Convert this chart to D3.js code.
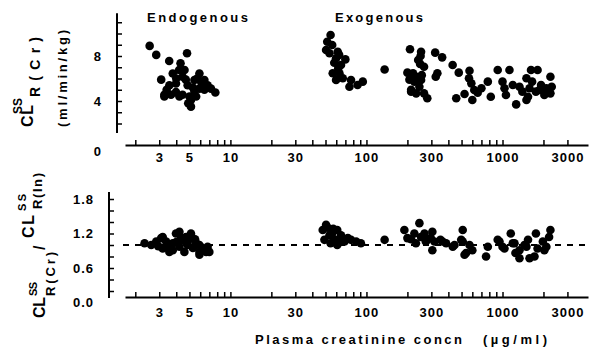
<!DOCTYPE html>
<html>
<head>
<meta charset="utf-8">
<script src="https://cdn.jsdelivr.net/npm/d3@7.9.0/dist/d3.min.js"></script>
<style>
  body { margin: 0; background: #fff; }
  svg { display: block; }
  text { font-family: "Liberation Sans", Arial, sans-serif; font-weight: bold; fill: #000; }
</style>
</head>
<body>
<svg id="chart" width="597" height="348"></svg>
<script>
// [plasma creatinine concn (ug/ml), CL_R(Cr) (ml/min/kg)]
const endoClearance = [
  [2.55, 8.9], [2.85, 8.1], [3.55, 7.55], [4.8, 8.25], [4.3, 7.35],
  [3.1, 5.9], [3.27, 4.55], [3.56, 5.4], [3.77, 6.45], [3.98, 4.8],
  [4.22, 4.4], [4.45, 6.15], [4.6, 6.75], [4.85, 5.4], [5.13, 4.1],
  [5.13, 3.5], [5.44, 4.85], [5.92, 6.45], [6.1, 5.7], [6.44, 5.87],
  [6.8, 5.4], [7.2, 5.1], [7.75, 4.75], [3.27, 4.4], [3.66, 4.55],
  [3.98, 5.55], [5.0, 4.4], [5.6, 4.4], [5.92, 5.1], [4.2, 6.75],
  [4.7, 5.9], [5.44, 5.87], [6.44, 5.0], [4.45, 4.55], [3.4, 5.0],
  [4.0, 6.0], [5.3, 5.2], [5.7, 6.0], [6.2, 5.3], [4.9, 3.8]
];
const exoClearance = [
  [54.5, 9.87], [51.5, 9.27], [56, 8.98], [50.5, 8.53], [53.5, 8.24],
  [61.5, 8.38], [59.8, 7.8], [65, 7.2], [70, 7.7], [63.3, 6.46],
  [56.5, 6.46], [59.8, 5.87], [67, 6.02], [77, 5.87], [75, 5.27],
  [86, 5.42], [94, 5.72], [58, 7.4], [62, 6.9], [63, 8.1],
  [136, 6.8],
  [209, 8.6], [252, 8.38], [320, 8.3], [360, 7.88], [240, 7.64],
  [265, 7.05], [430, 7.2], [200, 6.52], [220, 6.46], [232, 6.16],
  [225, 5.72], [252, 5.87], [245, 5.27], [213, 4.83], [232, 4.68],
  [265, 4.68], [280, 4.24], [332, 6.46], [323, 6.16], [477, 6.52],
  [572, 6.69], [567, 6.02], [590, 5.57], [457, 4.24], [526, 4.62],
  [600, 4.09], [657, 4.74], [700, 5.13], [780, 5.72], [820, 4.38],
  [922, 6.76], [1125, 6.76], [1000, 5.72], [1034, 5.13], [1190, 5.42],
  [1060, 4.53], [1260, 3.7], [1400, 4.83], [1620, 6.76], [1810, 6.76],
  [1650, 5.72], [1920, 5.42], [2250, 6.16], [2300, 5.27], [2250, 4.68],
  [2030, 4.53], [1760, 4.83], [1580, 5.13], [1540, 4.38], [1870, 4.98],
  [2100, 5.13], [1333, 5.27], [1500, 6.02], [1500, 4.09], [207, 5.9],
  [213, 5.0], [255, 6.3], [620, 4.98], [250, 8.0], [248, 7.3]
];
// [plasma creatinine concn, CL_R(Cr) / CL_R(In)]
const endoRatio = [
  [2.34, 1.03], [2.62, 1.0], [2.85, 1.06], [3.1, 1.12], [3.18, 0.94],
  [3.18, 1.14], [3.37, 1.06], [3.56, 0.88], [3.77, 1.03], [3.77, 0.91],
  [3.98, 1.2], [4.22, 0.97], [4.22, 1.23], [4.34, 1.12], [4.59, 0.88],
  [4.72, 1.14], [4.85, 1.0], [5.13, 1.17], [5.13, 1.2], [5.6, 1.03],
  [5.92, 0.88], [5.92, 1.0], [5.92, 0.83], [6.63, 0.88], [6.8, 0.97],
  [7.0, 0.88], [2.95, 0.98], [3.4, 0.96], [4.0, 1.05], [4.5, 1.08],
  [5.3, 0.95], [6.2, 0.95], [3.6, 1.0], [4.9, 1.08], [5.5, 1.1]
];
const exoRatio = [
  [50.5, 1.35], [47.7, 1.26], [53.5, 1.17], [49.1, 1.09], [58.2, 1.09],
  [65, 1.17], [69, 1.06], [77, 1.09], [84, 1.06], [91, 1.03],
  [54.5, 1.03], [61, 1.26], [56, 1.2], [61, 1.0], [73, 1.12],
  [52, 1.3], [57, 1.28], [63, 1.1],
  [136, 1.09],
  [190, 1.26], [245, 1.38], [200, 1.12], [225, 1.2], [267, 1.2],
  [280, 1.09], [231, 1.03], [316, 1.06], [252, 1.14], [305, 1.23],
  [297, 1.12], [305, 0.91], [350, 1.09], [385, 1.03], [444, 1.0],
  [510, 1.26], [510, 1.06], [526, 0.83], [600, 0.91], [757, 0.8],
  [780, 0.97], [922, 1.09], [1000, 0.97], [1150, 1.2], [1190, 1.03],
  [1333, 0.91], [1333, 0.77], [1580, 0.77], [1540, 1.09], [1760, 1.2],
  [1810, 0.94], [1980, 1.06], [2250, 1.26], [2200, 1.14], [2100, 0.97],
  [1450, 1.0], [273, 1.06], [362, 1.06], [431, 0.97], [497, 1.09],
  [572, 1.0], [540, 0.86], [950, 1.06], [1034, 0.94], [1225, 1.03],
  [1718, 0.8], [2030, 0.91], [1500, 0.97], [1245, 0.86], [213, 1.1]
];

const xTickLabels = [3, 5, 10, 30, 100, 300, 1000, 3000];
const yTopLabels = [0, 4, 8];
const yBotLabels = [0, 0.6, 1.2, 1.8];
const refRatio = 1.0;

const svg = d3.select('#chart');
const x = d3.scaleLog().domain([1.68, 4250]).range([125, 588]);
const yTop = d3.scaleLinear().domain([0, 12]).range([146, 11]);
const yBot = d3.scaleLinear().domain([0, 2]).range([302.5, 187.5]);

// minor log ticks 2..9 per decade
const xTicks = [];
[1, 10, 100, 1000].forEach(p => {
  for (let m = 1; m <= 9; m++) {
    const v = m * p;
    if (v >= 2 && v <= 3000) xTicks.push(v);
  }
});

function drawXAxis(yPos, pad) {
  const g = svg.append('g')
    .attr('transform', `translate(0,${yPos})`)
    .call(d3.axisBottom(x).tickValues(xTicks).tickSize(-5).tickSizeOuter(0).tickPadding(pad)
      .tickFormat(d => xTickLabels.includes(d) ? d : ''));
  g.select('.domain').attr('stroke-width', 2);
  g.selectAll('.tick line').attr('stroke-width', 1.5);
  g.selectAll('.tick text').attr('font-size', 13).attr('font-family', null).attr('letter-spacing', 1);
}

function drawYAxis(scale, xPos, ticks, labels, fmt, from, to) {
  const g = svg.append('g')
    .attr('transform', `translate(${xPos},0)`)
    .call(d3.axisLeft(scale).tickValues(ticks).tickSize(-5).tickPadding(15)
      .tickFormat(d => labels.some(l => Math.abs(l - d) < 1e-9) ? fmt(d) : ''));
  g.select('.domain').remove();
  g.selectAll('.tick line').attr('stroke-width', 1.5)
    .filter(d => d < from).remove();
  g.selectAll('.tick text').attr('font-size', 13).attr('font-family', null).attr('letter-spacing', 1);
  g.append('line')
    .attr('y1', scale(from)).attr('y2', scale(to))
    .attr('stroke', '#000').attr('stroke-width', 2);
  return g;
}

drawXAxis(145, 8);
drawXAxis(297, 11);
const gTop = drawYAxis(yTop, 117, d3.range(0, 12), yTopLabels, d3.format('d'), 1.15, 11.8);
// the zero label sits a little low in the original
gTop.selectAll('.tick').filter(d => d === 0).select('text').attr('dy', '0.75em');
drawYAxis(yBot, 109, d3.range(0, 19, 2).map(d => d / 10), yBotLabels, d3.format('.1f'), 0.08, 1.92);

// reference line
svg.append('line')
  .attr('x1', 123).attr('x2', 586)
  .attr('y1', yBot(refRatio)).attr('y2', yBot(refRatio))
  .attr('stroke', '#000').attr('stroke-width', 2).attr('stroke-dasharray', '6,6');

function dots(data, yScale) {
  svg.append('g').selectAll('circle').data(data).join('circle')
    .attr('cx', d => x(d[0])).attr('cy', d => yScale(d[1]))
    .attr('r', 4.3).attr('fill', '#000');
}
dots(endoClearance, yTop);
dots(exoClearance, yTop);
dots(endoRatio, yBot);
dots(exoRatio, yBot);

// panel titles
svg.append('text').attr('x', 147).attr('y', 22).attr('font-size', 13)
  .attr('textLength', 101).text('Endogenous');
svg.append('text').attr('x', 335).attr('y', 22).attr('font-size', 13)
  .attr('textLength', 88).text('Exogenous');

// x axis title
svg.append('text').attr('x', 255).attr('y', 344).attr('font-size', 13)
  .attr('textLength', 207).text('Plasma creatinine concn');
svg.append('text').attr('x', 483).attr('y', 344).attr('font-size', 13)
  .attr('textLength', 64).text('(µg/ml)');

// rotated y titles: local (lx, ly) -> screen (ly, -lx)
const yt = svg.append('g').attr('transform', 'rotate(-90)');
function rt(txt, start, base, size, len) {
  const t = yt.append('text').attr('x', -start).attr('y', base).attr('font-size', size).text(txt);
  if (len) t.attr('textLength', len);
}
rt('CL', 127, 33, 16, 22);
rt('SS', 114, 22, 12, 16);
rt('R(Cr)', 97, 40, 14, 60);
rt('(ml/min/kg)', 127, 67, 13, 97);

rt('CL', 318, 45, 16, 21);
rt('SS', 296, 37, 11, 14);
rt('R(Cr)', 296, 55, 13, 44);
rt('/', 250, 45, 16, 10);
rt('CL', 238, 34, 16, 23);
rt('SS', 211, 26, 11, 17);
rt('R(In)', 209, 42, 13, 36);
</script>
</body>
</html>
